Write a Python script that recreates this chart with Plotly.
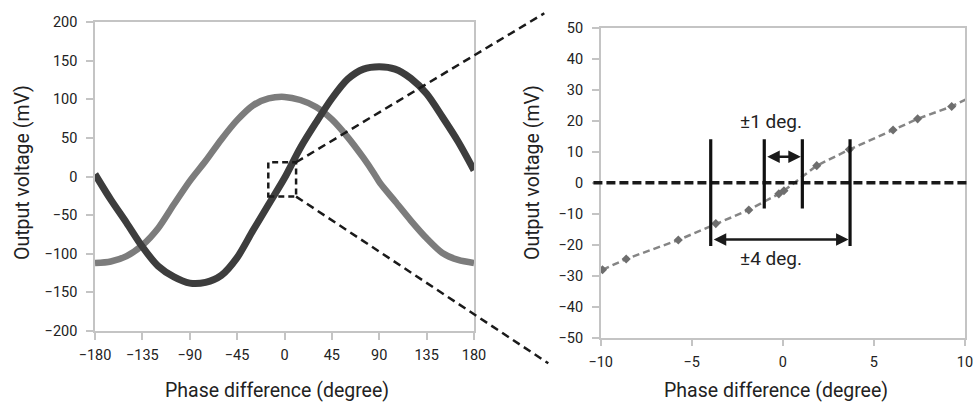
import plotly.graph_objects as go

# ---------------- data ----------------
dark_phase = [-180, -165, -150, -135, -120, -105, -90, -75, -60, -45, -30, -15, 0,
              15, 30, 45, 60, 75, 90, 105, 120, 135, 150, 165, 180]
dark_volt = [3, -30, -60, -91, -116, -130, -138, -137, -128, -105, -70, -36, -2,
             37, 70, 101, 126, 139, 142, 139, 127, 107, 77, 45, 8]

light_phase = [-180, -165, -150, -135, -120, -105, -90, -75, -60, -45, -30, -15, 0,
               15, 30, 45, 60, 75, 85, 91, 105, 120, 135, 150, 165, 180]
light_volt = [-112, -110, -103, -89, -67, -36, -6, 20, 48, 73, 92, 101, 103,
              99, 90, 74, 51, 24, 4, -9, -32, -57, -80, -99, -108, -112]

zoom_phase = [-9.9, -8.6, -5.74, -3.68, -1.87, -0.22, 0.06, 1.86, 3.65, 6.05, 7.4, 9.27, 10.6]
zoom_volt = [-28.1, -24.6, -18.5, -13.2, -8.8, -3.6, -2.6, 5.5, 10.7, 17.0, 20.6, 24.6, 28.4]

left_xticks = [-180, -135, -90, -45, 0, 45, 90, 135, 180]
left_yticks = [-200, -150, -100, -50, 0, 50, 100, 150, 200]
right_xticks = [-10, -5, 0, 5, 10]
right_yticks = [-50, -40, -30, -20, -10, 0, 10, 20, 30, 40, 50]

zoom_box = dict(x0=-15.4, x1=11, y0=-26, y1=18.4)
band1 = (-1.02, 1.07)   # ±1 deg markers
band4 = (-3.96, 3.69)   # ±4 deg markers

# ---------------- layout geometry ----------------
W, H = 976, 405
L_XDOM = [95 / W, 474 / W]
L_YDOM = [1 - 331 / H, 1 - 22 / H]
R_XDOM = [600.7 / W, 965 / W]
R_YDOM = [1 - 337.7 / H, 1 - 27.7 / H]
L_XR, L_YR = [-180, 180], [-200, 200]
R_XR, R_YR = [-10, 10], [-50, 50]


def to_paper(xv, yv, xdom, xr, ydom, yr):
    px = xdom[0] + (xv - xr[0]) / (xr[1] - xr[0]) * (xdom[1] - xdom[0])
    py = ydom[0] + (yv - yr[0]) / (yr[1] - yr[0]) * (ydom[1] - ydom[0])
    return px, py


FONT = "Roboto"
TXT = "#222222"
AXC = "#c4c4c4"

fig = go.Figure()
fig.add_trace(go.Scatter(x=light_phase, y=light_volt, mode="lines",
                         line=dict(color="#7c7c7c", width=6.5, shape="spline", smoothing=0.8),
                         xaxis="x", yaxis="y", showlegend=False))
fig.add_trace(go.Scatter(x=dark_phase, y=dark_volt, mode="lines",
                         line=dict(color="#3d3d3d", width=7, shape="spline", smoothing=0.8),
                         xaxis="x", yaxis="y", showlegend=False))
fig.add_trace(go.Scatter(x=zoom_phase, y=zoom_volt, mode="lines+markers",
                         line=dict(color="#858585", width=2.5, dash="7px,4px"),
                         marker=dict(symbol="diamond", size=7, color="#6e6e6e"),
                         xaxis="x2", yaxis="y2", showlegend=False))

axis_common = dict(showgrid=False, zeroline=False, showline=True, mirror=True,
                   linecolor=AXC, linewidth=1.5, ticks="outside", ticklen=7,
                   tickcolor=AXC, tickwidth=1.5, automargin=False,
                   tickfont=dict(family=FONT, size=14.5, color=TXT))

fig.update_layout(
    width=W, height=H, template="none",
    margin=dict(l=0, r=0, t=0, b=0),
    paper_bgcolor="white", plot_bgcolor="white",
    xaxis=dict(domain=L_XDOM, range=L_XR, tickvals=left_xticks, anchor="y",
               ticklabelstandoff=3, **axis_common),
    yaxis=dict(domain=L_YDOM, range=L_YR, tickvals=left_yticks, anchor="x",
               ticklabelstandoff=6, **axis_common),
    xaxis2=dict(domain=R_XDOM, range=R_XR, tickvals=right_xticks, anchor="y2",
                ticklabelstandoff=3, **axis_common),
    yaxis2=dict(domain=R_YDOM, range=R_YR, tickvals=right_yticks, anchor="x2",
                ticklabelstandoff=6, **axis_common),
)

shapes = []
# zoom rectangle on the left plot
shapes.append(dict(type="rect", xref="x", yref="y", **zoom_box,
                   line=dict(color="#1a1a1a", width=2.5, dash="6px,4px")))
# connecting dashed lines
tr = to_paper(zoom_box["x1"], zoom_box["y1"], L_XDOM, L_XR, L_YDOM, L_YR)
br = to_paper(zoom_box["x1"], zoom_box["y0"], L_XDOM, L_XR, L_YDOM, L_YR)
shapes.append(dict(type="line", xref="paper", yref="paper", x0=tr[0], y0=tr[1],
                   x1=544.3 / W, y1=1 - 13.3 / H,
                   line=dict(color="#1a1a1a", width=2.5, dash="8px,5px")))
shapes.append(dict(type="line", xref="paper", yref="paper", x0=br[0], y0=br[1],
                   x1=548.3 / W, y1=1 - 363.3 / H,
                   line=dict(color="#1a1a1a", width=2.5, dash="8px,5px")))
# zero dashed line on right plot (extends slightly past the frame)
z0 = to_paper(-10.4, 0, R_XDOM, R_XR, R_YDOM, R_YR)
z1 = to_paper(10.27, 0, R_XDOM, R_XR, R_YDOM, R_YR)
shapes.append(dict(type="line", xref="paper", yref="paper", x0=z0[0], y0=z0[1],
                   x1=z1[0], y1=z1[1],
                   line=dict(color="#1a1a1a", width=3.5, dash="9px,4px")))
# vertical marker bars
for xv in band4:
    shapes.append(dict(type="line", xref="x2", yref="y2", x0=xv, x1=xv, y0=-20.4, y1=14,
                       line=dict(color="#111111", width=3.2)))
for xv in band1:
    shapes.append(dict(type="line", xref="x2", yref="y2", x0=xv, x1=xv, y0=-8.3, y1=14,
                       line=dict(color="#111111", width=3.2)))
fig.update_layout(shapes=shapes)

ann = []
# double arrows
ann.append(dict(xref="x2", yref="y2", axref="x2", ayref="y2", x=band1[1], y=8.4,
                ax=band1[0], ay=8.4, text="", showarrow=True, arrowhead=2, arrowsize=1,
                arrowwidth=2.5, arrowcolor="#1a1a1a", arrowside="end+start",
                standoff=1.5, startstandoff=1.5))
ann.append(dict(xref="x2", yref="y2", axref="x2", ayref="y2", x=band4[1], y=-18.3,
                ax=band4[0], ay=-18.3, text="", showarrow=True, arrowhead=2, arrowsize=1,
                arrowwidth=2.5, arrowcolor="#1a1a1a", arrowside="end+start",
                standoff=1.5, startstandoff=1.5))
lf = dict(family=FONT, size=19, color=TXT)
ann.append(dict(xref="x2", yref="y2", x=-0.67, y=19.7, text="±1 deg.", showarrow=False,
                xanchor="center", yanchor="middle", font=lf))
ann.append(dict(xref="x2", yref="y2", x=-0.67, y=-24.4, text="±4 deg.", showarrow=False,
                xanchor="center", yanchor="middle", font=lf))
# axis titles
tf = dict(family=FONT, size=19.5, color=TXT)
for xp, yp, txt, ang in [(277, 390, "Phase difference (degree)", 0),
                         (776, 390, "Phase difference (degree)", 0),
                         (22, 173, "Output voltage (mV)", -90),
                         (532, 173, "Output voltage (mV)", -90)]:
    ann.append(dict(xref="paper", yref="paper", x=xp / W, y=1 - yp / H, text=txt,
                    showarrow=False, textangle=ang, xanchor="center", yanchor="middle",
                    font=tf))
fig.update_layout(annotations=ann)

fig.write_html("out.html")
